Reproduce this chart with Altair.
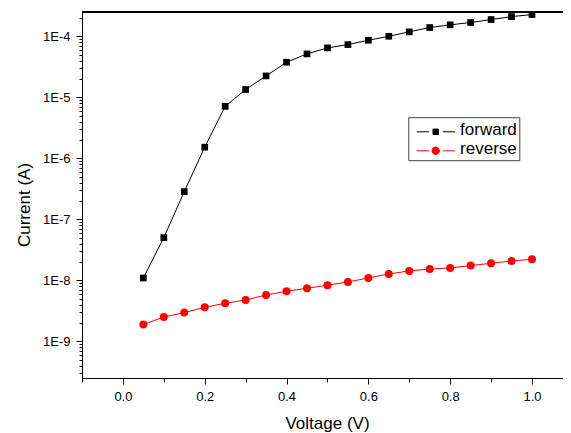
import altair as alt
import pandas as pd

voltage = [0.05, 0.10, 0.15, 0.20, 0.25, 0.30, 0.35, 0.40, 0.45, 0.50,
           0.55, 0.60, 0.65, 0.70, 0.75, 0.80, 0.85, 0.90, 0.95, 1.00]
forward = [1.09e-8, 5.0e-8, 2.84e-7, 1.52e-6, 7.1e-6, 1.34e-5, 2.24e-5, 3.75e-5, 5.14e-5, 6.45e-5,
           7.3e-5, 8.6e-5, 1.0e-4, 1.18e-4, 1.39e-4, 1.54e-4, 1.68e-4, 1.88e-4, 2.1e-4, 2.27e-4]
reverse = [1.88e-9, 2.5e-9, 2.95e-9, 3.6e-9, 4.2e-9, 4.75e-9, 5.74e-9, 6.6e-9, 7.4e-9, 8.3e-9,
           9.4e-9, 1.09e-8, 1.27e-8, 1.42e-8, 1.53e-8, 1.59e-8, 1.74e-8, 1.9e-8, 2.07e-8, 2.21e-8]
series_names = ["forward", "reverse"]
series_colors = ["#000000", "#ff0000"]
series_shapes = ["square", "circle"]
series_sizes = [45, 64]
legend_shapes = [
    "M-0.44,0.17H0.79M2.16,0.17H3.39M1.18,-0.1H1.72V0.44H1.18Z",
    "M-0.44,0.17H0.79M2.16,0.17H3.39M1.08,0.17A0.37,0.37,0,1,0,1.82,0.17A0.37,0.37,0,1,0,1.08,0.17Z",
]
x_ticks = [-0.1, 0.0, 0.1, 0.2, 0.3, 0.4, 0.5, 0.6, 0.7, 0.8, 0.9, 1.0]
y_ticks = [k * 10.0 ** e for e in range(-10, -3) for k in range(1, 10)
           if 2.5e-10 <= k * 10.0 ** e <= 2.5e-4]

df = pd.DataFrame({
    "voltage": voltage * 2,
    "current": forward + reverse,
    "series": [series_names[0]] * len(voltage) + [series_names[1]] * len(voltage),
})

W, H = 481, 366
FONT = "Liberation Sans"

major_y = "abs(log(datum.value)/LN10 - round(log(datum.value)/LN10)) < 0.001"
major_x = "abs(datum.value*5 - round(datum.value*5)) < 0.001"

x_enc = alt.X(
    "voltage:Q",
    scale=alt.Scale(domain=[-0.1, 1.0758], nice=False, zero=False),
    axis=alt.Axis(
        title="Voltage (V)", values=x_ticks, grid=False,
        labelExpr=f"{major_x} ? format(datum.value, '.1f') : ''",
        tickSize={"condition": {"test": major_x, "value": 6}, "value": 4},
        labelPadding=6, labelFontSize=13, labelFont=FONT, labelColor="black",
        labelFlush=False, labelOverlap=False,
        titleFontSize=17, titleFont=FONT, titleColor="black", titleFontWeight="normal",
        titleBaseline="alphabetic", titleY=50, titleX=245,
        domainColor="black", tickColor="black",
    ),
)
y_enc = alt.Y(
    "current:Q",
    scale=alt.Scale(type="log", domain=[2.5e-10, 2.5e-4], nice=False),
    axis=alt.Axis(
        title="Current (A)", values=y_ticks, grid=False,
        labelExpr=f"{major_y} ? '1E' + round(log(datum.value)/LN10) : ''",
        tickSize={"condition": {"test": major_y, "value": 6}, "value": 3},
        labelPadding=6, labelFontSize=13, labelFont=FONT, labelColor="black",
        labelOverlap=False, labelFlush=False,
        titleFontSize=17, titleFont=FONT, titleColor="black", titleFontWeight="normal",
        titleAngle=270, titleAlign="center", titleBaseline="alphabetic",
        titleX=-52.5, titleY=192.5,
        domainColor="black", tickColor="black",
    ),
)

base = alt.Chart(df)
layers = []
for name, col, shp, sz in zip(series_names, series_colors, series_shapes, series_sizes):
    sub = base.transform_filter(alt.datum.series == name)
    layers.append(sub.mark_line(strokeWidth=1, color=col, clip=True).encode(x=x_enc, y=y_enc))
    layers.append(sub.mark_point(filled=True, opacity=1, color=col, shape=shp, size=sz,
                                 strokeWidth=0, clip=True).encode(x="voltage:Q", y="current:Q"))

leg = alt.Legend(
    title=None, orient="none", legendX=326.3, legendY=105.2,
    symbolSize=400, symbolStrokeWidth=1, labelFontSize=17, labelFont=FONT,
    labelColor="black", labelOffset=28.4, padding=2.4, rowPadding=0,
    strokeColor="#444444", fillColor="white", symbolOpacity=1,
)
legend_layer = base.transform_filter("false").mark_point(filled=True, opacity=1).encode(
    x="voltage:Q", y="current:Q",
    fill=alt.Fill("series:N", scale=alt.Scale(domain=series_names, range=series_colors), legend=leg),
    stroke=alt.Stroke("series:N", scale=alt.Scale(domain=series_names, range=series_colors), legend=leg),
    shape=alt.Shape("series:N", scale=alt.Scale(domain=series_names, range=legend_shapes), legend=leg),
)
layers.append(legend_layer)

frame_top = alt.Chart(df).mark_rule(color="black", strokeWidth=1).encode(
    x=alt.value(0), x2=alt.value(W), y=alt.value(0)
)
layers.append(frame_top)

chart = alt.layer(*layers).properties(
    width=W, height=H,
    autosize=alt.AutoSizeParams(type="none"),
    padding={"left": 74, "top": 4, "right": 0, "bottom": 55},
).configure_view(stroke=None).configure_legend(
    strokeColor="#444444", fillColor="white", padding=2.4, strokeWidth=1,
).configure(background="white")

chart.save("out.html", embed_options={"renderer": "svg", "actions": False})
